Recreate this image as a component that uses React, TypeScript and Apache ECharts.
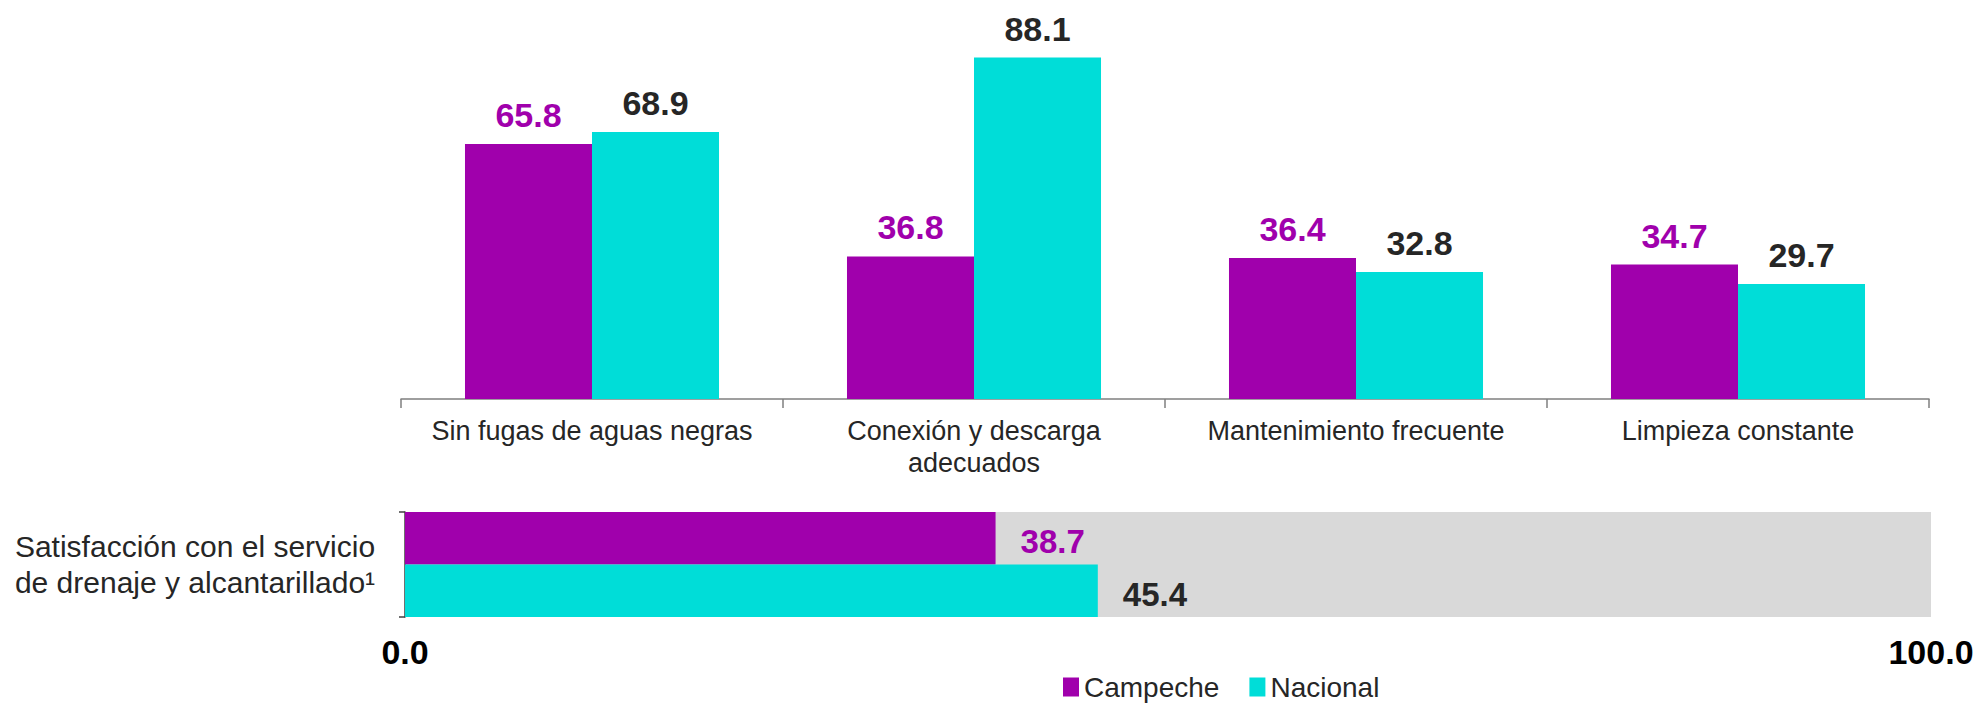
import React, { useEffect, useRef } from "react";
import * as echarts from "echarts";

const categories = [
  "Sin fugas de aguas negras",
  "Conexión y descarga\nadecuados",
  "Mantenimiento frecuente",
  "Limpieza constante",
];
const campeche = [65.8, 36.8, 36.4, 34.7];
const nacional = [68.9, 88.1, 32.8, 29.7];

const satisfCategory = ["Satisfacción con el servicio\nde drenaje y alcantarillado¹"];
const satisfCampeche = [38.7];
const satisfNacional = [45.4];

const seriesNames = ["Campeche", "Nacional"];

const PURPLE = "#A000AC";
const CYAN = "#00DDD8";
const DARK = "#262626";
const FONT = "'Liberation Sans', Arial, sans-serif";

export default function App() {
  const ref = useRef<HTMLDivElement>(null);
  useEffect(() => {
    if (!ref.current) return;
    const chart = echarts.init(ref.current, undefined, { renderer: "svg" });
    const fmt = (p: any) => Number(p.value).toFixed(1);
    chart.setOption({
      animation: false,
      backgroundColor: "#ffffff",
      textStyle: { fontFamily: FONT },
      legend: {
        data: seriesNames,
        left: 1058,
        top: 668,
        icon: "rect",
        itemWidth: 16,
        itemHeight: 19,
        itemGap: 30,
        textStyle: { fontSize: 28, color: DARK, fontFamily: FONT },
      },
      grid: [
        { left: 401, width: 1528, top: 11.5, bottom: 306, containLabel: false },
        {
          left: 405,
          right: 52,
          top: 512,
          bottom: 88,
          show: true,
          backgroundColor: "#D9D9D9",
          borderWidth: 0,
          containLabel: false,
        },
      ],
      xAxis: [
        {
          gridIndex: 0,
          type: "category",
          data: categories,
          axisLine: { show: true, lineStyle: { color: "#7F7F7F", width: 1.5 } },
          axisTick: {
            show: true,
            interval: 0,
            length: 9,
            lineStyle: { color: "#7F7F7F", width: 1.5 },
          },
          axisLabel: {
            interval: 0,
            fontSize: 27,
            lineHeight: 32,
            color: DARK,
            margin: 16,
            fontFamily: FONT,
          },
        },
        {
          gridIndex: 1,
          type: "value",
          min: 0,
          max: 100,
          interval: 100,
          axisLine: { show: false },
          axisTick: { show: false },
          splitLine: { show: false },
          axisLabel: {
            fontSize: 34,
            fontWeight: "bold",
            color: "#000000",
            margin: 18,
            fontFamily: FONT,
            formatter: (v: number) => v.toFixed(1),
          },
        },
      ],
      yAxis: [
        {
          gridIndex: 0,
          type: "value",
          min: 0,
          max: 100,
          show: false,
          splitLine: { show: false },
        },
        {
          gridIndex: 1,
          type: "category",
          data: satisfCategory,
          inverse: true,
          axisLine: { show: true, lineStyle: { color: "#404040", width: 1.5 } },
          axisTick: { show: true, length: 6, lineStyle: { color: "#404040", width: 1.5 } },
          axisLabel: {
            align: "center",
            margin: 210,
            fontSize: 30,
            lineHeight: 36,
            color: DARK,
            fontFamily: FONT,
          },
        },
      ],
      series: [
        {
          name: seriesNames[0],
          type: "bar",
          xAxisIndex: 0,
          yAxisIndex: 0,
          data: campeche,
          barGap: "0%",
          barCategoryGap: "33.5%",
          itemStyle: { color: PURPLE },
          label: {
            show: true,
            position: "top",
            distance: 12,
            fontSize: 34,
            fontWeight: "bold",
            color: PURPLE,
            fontFamily: FONT,
            formatter: fmt,
          },
        },
        {
          name: seriesNames[1],
          type: "bar",
          xAxisIndex: 0,
          yAxisIndex: 0,
          data: nacional,
          barGap: "0%",
          barCategoryGap: "33.5%",
          itemStyle: { color: CYAN },
          label: {
            show: true,
            position: "top",
            distance: 12,
            fontSize: 34,
            fontWeight: "bold",
            color: DARK,
            fontFamily: FONT,
            formatter: fmt,
          },
        },
        {
          name: seriesNames[0],
          type: "bar",
          xAxisIndex: 1,
          yAxisIndex: 1,
          data: satisfCampeche,
          barGap: "0%",
          barCategoryGap: "0%",
          itemStyle: { color: PURPLE },
          label: {
            show: true,
            position: "right",
            distance: 25,
            offset: [0, 3],
            fontSize: 33,
            fontWeight: "bold",
            color: PURPLE,
            fontFamily: FONT,
            formatter: fmt,
          },
        },
        {
          name: seriesNames[1],
          type: "bar",
          xAxisIndex: 1,
          yAxisIndex: 1,
          data: satisfNacional,
          barGap: "0%",
          barCategoryGap: "0%",
          itemStyle: { color: CYAN },
          label: {
            show: true,
            position: "right",
            distance: 25,
            offset: [0, 4],
            fontSize: 33,
            fontWeight: "bold",
            color: DARK,
            fontFamily: FONT,
            formatter: fmt,
          },
        },
      ],
    });
    return () => chart.dispose();
  }, []);
  return (
    <div
      ref={ref}
      style={{ position: "fixed", left: 0, top: 0, width: 1983, height: 705 }}
    />
  );
}
